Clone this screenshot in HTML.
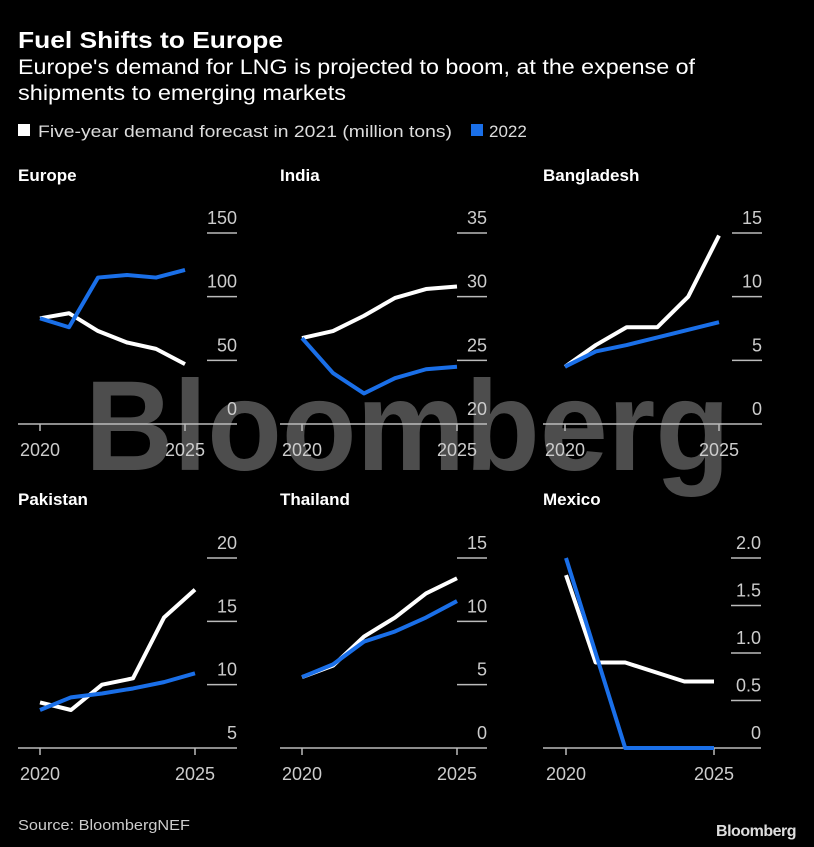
<!DOCTYPE html>
<html><head><meta charset="utf-8"><style>
body{margin:0;background:#000;}
svg{display:block;font-family:"Liberation Sans",sans-serif;}
</style></head><body>
<svg id="c" width="814" height="847" viewBox="0 0 814 847">
<rect width="814" height="847" fill="#000"/>
<text x="18" y="48" fill="#fff" font-size="23" font-weight="bold" textLength="265" lengthAdjust="spacingAndGlyphs">Fuel Shifts to Europe</text>
<text x="18" y="74" fill="#fff" font-size="21" textLength="677" lengthAdjust="spacingAndGlyphs">Europe's demand for LNG is projected to boom, at the expense of</text>
<text x="18" y="100" fill="#fff" font-size="21" textLength="328" lengthAdjust="spacingAndGlyphs">shipments to emerging markets</text>
<rect x="18" y="124" width="12" height="12" fill="#fff"/>
<text x="38" y="137" fill="#ddd" font-size="17" textLength="414" lengthAdjust="spacingAndGlyphs">Five-year demand forecast in 2021 (million tons)</text>
<rect x="471" y="124" width="12" height="12" fill="#1a6fe8"/>
<text x="489" y="137" fill="#ddd" font-size="17">2022</text>
<text x="85" y="470" fill="#5a5a5a" fill-opacity="0.85" font-size="128" font-weight="bold" textLength="645" lengthAdjust="spacingAndGlyphs">Bloomberg</text>
<g id="panels"></g>
<text x="18" y="830" fill="#ccc" font-size="15" textLength="172" lengthAdjust="spacingAndGlyphs">Source: BloombergNEF</text>
<text x="796" y="836" fill="#ddd" font-size="16" font-weight="bold" text-anchor="end" letter-spacing="-0.5">Bloomberg</text>
</svg>
<script>
const years=[2020,2021,2022,2023,2024,2025];
const panelNames=["Europe","India","Bangladesh","Pakistan","Thailand","Mexico"];
const europe2021=[83,87,73,64,59,47];
const europe2022=[83,76,115,117,115,121];
const india2021=[26.75,27.3,28.5,29.9,30.6,30.8];
const india2022=[26.75,24,22.4,23.6,24.3,24.5];
const bangladesh2021=[4.5,6.2,7.6,7.6,10,14.8];
const bangladesh2022=[4.5,5.7,6.2,6.8,7.4,8.0];
const pakistan2021=[8.6,8.0,10,10.5,15.3,17.5];
const pakistan2022=[8.0,9.0,9.3,9.7,10.2,10.9];
const thailand2021=[5.6,6.5,8.8,10.3,12.2,13.4];
const thailand2022=[5.6,6.6,8.4,9.2,10.3,11.6];
const mexico2021=[1.82,0.9,0.9,0.8,0.7,0.7];
const mexico2022=[2.0,1.0,0,0,0,0];
const europeTicks=["0","50","100","150"];
const indiaTicks=["20","25","30","35"];
const bangladeshTicks=["0","5","10","15"];
const pakistanTicks=["5","10","15","20"];
const thailandTicks=["0","5","10","15"];
const mexicoTicks=["0","0.5","1.0","1.5","2.0"];
const series2021=[europe2021,india2021,bangladesh2021,pakistan2021,thailand2021,mexico2021];
const series2022=[europe2022,india2022,bangladesh2022,pakistan2022,thailand2022,mexico2022];
const ticks=[europeTicks,indiaTicks,bangladeshTicks,pakistanTicks,thailandTicks,mexicoTicks];
const layout=[
 {l:18,r:237,x0:40,x1:185,top:233,base:424,ty:181},
 {l:280,r:487,x0:302,x1:457,top:233,base:424,ty:181},
 {l:543,r:762,x0:565,x1:719,top:233,base:424,ty:181},
 {l:18,r:237,x0:40,x1:195,top:558,base:748,ty:505},
 {l:280,r:487,x0:302,x1:457,top:558,base:748,ty:505},
 {l:543,r:761,x0:566,x1:714,top:558,base:748,ty:505}];
const NS="http://www.w3.org/2000/svg";
const root=document.getElementById("panels");
function mk(t,a){const e=document.createElementNS(NS,t);for(const k in a)e.setAttribute(k,a[k]);return e;}
panelNames.forEach((name,i)=>{
 const L=layout[i],tk=ticks[i];
 const lo=parseFloat(tk[0]),hi=parseFloat(tk[tk.length-1]);
 const y=v=>L.base-(v-lo)/(hi-lo)*(L.base-L.top);
 const x=yr=>L.x0+(yr-years[0])/(years[5]-years[0])*(L.x1-L.x0);
 const g=mk("g",{});
 
 
 const t=mk("text",{x:L.l,y:L.ty,fill:"#fff","font-size":"17","font-weight":"bold"});
 
 
 t.textContent=name;g.appendChild(t);
 tk.forEach((s,j)=>{
  const v=parseFloat(s),yy=y(v);
  if(j>0){const ln=mk("line",{x1:L.r-30,x2:L.r,y1:yy,y2:yy,stroke:"#bbb","stroke-width":"1.5"});
   
   
   g.appendChild(ln);}
  const lb=mk("text",{x:L.r,y:yy-9,fill:"#ccc","font-size":"18","text-anchor":"end"});
  
  
  lb.textContent=s;g.appendChild(lb);
 });
 const ax=mk("line",{x1:L.l,x2:L.r,y1:L.base,y2:L.base,stroke:"#bbb","stroke-width":"1.5"});
 
 
 g.appendChild(ax);
 [years[0],years[5]].forEach(yr=>{
  const tm=mk("line",{x1:x(yr),x2:x(yr),y1:L.base,y2:L.base+7,stroke:"#bbb","stroke-width":"1.5"});
  
  
  g.appendChild(tm);
  const tl=mk("text",{x:x(yr),y:L.base+32,fill:"#ccc","font-size":"18","text-anchor":"middle"});
  
  
  tl.textContent=yr;g.appendChild(tl);
 });
 [[series2021[i],"#fff","line-2021"],[series2022[i],"#1a6fe8","line-2022"]].forEach(([d,c,n])=>{
  const p=mk("polyline",{points:d.map((v,k)=>x(years[k])+","+y(v)).join(" "),fill:"none",stroke:c,"stroke-width":"4","stroke-linejoin":"round"});
  
  
  g.appendChild(p);
 });
 root.appendChild(g);
});
</script>
</body></html>
